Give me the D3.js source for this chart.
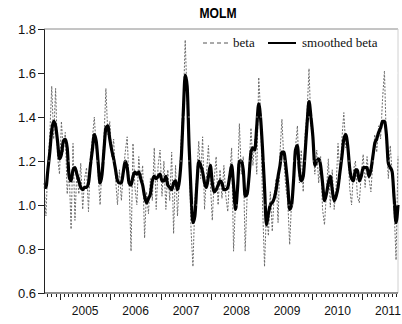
<!DOCTYPE html>
<html>
<head>
<meta charset="utf-8">
<script src="https://cdn.jsdelivr.net/npm/d3@7"></script>
<style>
  body { margin: 0; background: #fff; }
  svg { display: block; }
</style>
</head>
<body>
<div id="chart"></div>
<script>
const title = "MOLM";
const seriesNames = ["beta", "smoothed beta"];
const startDate = "2004-03-09";
const stepDays = 14;

const beta = [
  1.10, 0.95, 1.18, 1.32, 1.54, 1.30, 1.53, 1.22, 1.14, 1.38,
  1.24, 1.33, 1.05, 1.16, 0.89, 1.28, 0.93, 1.16, 1.05, 1.19,
  0.98, 1.12, 1.17, 0.97, 1.22, 1.30, 1.40, 1.26, 1.14, 1.00,
  1.18, 1.30, 1.53, 1.32, 1.38, 1.22, 1.30, 1.12, 1.00, 1.16,
  1.02, 1.15, 1.24, 1.31, 1.10, 0.79, 1.28, 1.08, 1.00, 1.22,
  1.10, 1.18, 0.85, 1.06, 0.96, 1.12, 1.02, 1.26, 0.98, 1.18,
  1.25, 1.04, 1.20, 0.98, 1.16, 1.02, 1.24, 0.87, 1.18, 0.95,
  1.12, 1.31, 1.45, 1.75, 1.48, 1.24, 0.89, 0.72, 1.02, 1.14,
  1.29, 1.12, 1.31, 0.98, 1.14, 1.27, 1.10, 0.93, 1.12, 1.22,
  1.00, 1.16, 1.03, 1.18, 1.04, 0.97, 1.14, 1.26, 0.79, 1.02,
  1.10, 1.37, 1.14, 1.22, 0.79, 1.04, 1.16, 1.35, 1.18, 1.30,
  1.14, 1.58, 1.42, 1.00, 0.72, 0.98, 0.86, 1.06, 0.88, 1.05,
  1.12, 0.92, 1.24, 1.39, 1.20, 1.08, 1.02, 0.82, 1.02, 1.14,
  1.26, 1.36, 1.10, 1.25, 1.06, 1.33, 1.42, 1.62, 1.36, 1.30,
  1.14, 1.25, 1.10, 1.22, 0.98, 0.91, 1.06, 1.21, 0.99, 1.16,
  0.98, 1.08, 1.28, 1.12, 1.30, 1.42, 1.26, 1.28, 1.08, 1.00,
  1.16, 1.20, 1.04, 1.01, 1.14, 1.23, 1.08, 1.22, 1.12, 1.06,
  1.20, 1.32, 1.24, 1.36, 1.30, 1.48, 1.61, 1.28, 1.12, 1.27,
  1.14, 0.98, 0.75, 1.22
];

const smoothed = [
  1.08, 1.08, 1.16, 1.24, 1.34, 1.38, 1.36, 1.29, 1.21, 1.23,
  1.29, 1.30, 1.26, 1.13, 1.11, 1.16, 1.17, 1.14, 1.11, 1.08,
  1.07, 1.08, 1.08, 1.10, 1.18, 1.25, 1.32, 1.29, 1.19, 1.10,
  1.14, 1.25, 1.35, 1.36, 1.30, 1.25, 1.21, 1.16, 1.11, 1.10,
  1.10, 1.15, 1.20, 1.17, 1.10, 1.09, 1.13, 1.15, 1.14, 1.15,
  1.12, 1.09, 1.04, 1.01, 1.03, 1.05, 1.11, 1.13, 1.12, 1.13,
  1.14, 1.11, 1.11, 1.13, 1.09, 1.08, 1.07, 1.10, 1.11, 1.07,
  1.11, 1.22, 1.42, 1.59, 1.54, 1.27, 1.06, 0.92, 0.95, 1.09,
  1.20, 1.18, 1.15, 1.10, 1.08, 1.13, 1.18, 1.10, 1.06, 1.07,
  1.09, 1.11, 1.10, 1.07, 1.07, 1.08, 1.13, 1.18, 1.09, 0.98,
  1.07, 1.20, 1.20, 1.16, 1.04, 1.05, 1.13, 1.24, 1.26, 1.25,
  1.36, 1.46, 1.39, 1.25, 1.08, 0.91, 0.96, 1.00, 1.01, 1.03,
  1.07, 1.13, 1.18, 1.24, 1.24, 1.18, 1.09, 0.98, 1.00, 1.11,
  1.25, 1.27, 1.16, 1.11, 1.13, 1.24, 1.37, 1.47, 1.40, 1.31,
  1.18, 1.20, 1.21, 1.18, 1.10, 1.02, 1.05, 1.10, 1.13, 1.07,
  1.02, 1.04, 1.08, 1.15, 1.22, 1.30, 1.32, 1.27, 1.17, 1.12,
  1.11, 1.16, 1.16, 1.11, 1.13, 1.17, 1.17, 1.17, 1.13, 1.16,
  1.22, 1.28, 1.30, 1.33, 1.35, 1.38, 1.38, 1.32, 1.19, 1.17,
  1.15, 1.03, 0.92, 1.00
];

const yTicks = [0.6, 0.8, 1.0, 1.2, 1.4, 1.6, 1.8];

const width = 402;
const height = 324;
const margin = { top: 29, right: 4, bottom: 31, left: 44 };

const parse = d3.timeParse("%Y-%m-%d");
const dates = beta.map((d, i) => d3.timeDay.offset(parse(startDate), i * stepDays));

const svg = d3.select("#chart")
  .append("svg")
  .attr("width", width)
  .attr("height", height);

// scales
const x = d3.scaleTime()
  .domain([dates[0], dates[dates.length - 1]])
  .range([margin.left, width - margin.right]);

const y = d3.scaleLinear()
  .domain([0.6, 1.8])
  .range([height - margin.bottom, margin.top]);

// frame (top and right edges in grey)
svg.append("line")
  .attr("x1", margin.left).attr("x2", width - margin.right)
  .attr("y1", margin.top).attr("y2", margin.top)
  .attr("stroke", "#8a8a8a").attr("stroke-width", 1);
svg.append("line")
  .attr("x1", width - margin.right).attr("x2", width - margin.right)
  .attr("y1", margin.top).attr("y2", height - margin.bottom)
  .attr("stroke", "#d0d0d0").attr("stroke-width", 1);

// beta (dashed grey)
const line = d3.line()
  .x((d, i) => x(dates[i]))
  .y(d => y(d));

svg.append("path")
  .datum(beta)
  .attr("fill", "none")
  .attr("stroke", "#6a6a6a")
  .attr("stroke-width", 1)
  .attr("stroke-dasharray", "2,1.5")
  .attr("d", line);

// smoothed beta (thick black)
svg.append("path")
  .datum(smoothed)
  .attr("fill", "none")
  .attr("stroke", "#000")
  .attr("stroke-width", 3.2)
  .attr("stroke-linejoin", "round")
  .attr("d", line.curve(d3.curveMonotoneX));

// faint white grid over the data
svg.append("g")
  .selectAll("line")
  .data(yTicks.slice(1, -1))
  .enter()
  .append("line")
  .attr("x1", margin.left).attr("x2", width - margin.right)
  .attr("y1", d => y(d)).attr("y2", d => y(d))
  .attr("stroke", "#fff")
  .attr("stroke-width", 0.6)
  .attr("stroke-dasharray", "2,2")
  .attr("opacity", 0.8);

// Y axis
const yAxis = svg.append("g")
  .attr("transform", "translate(" + margin.left + ",0)")
  .call(d3.axisLeft(y).tickValues(yTicks).tickFormat(d3.format(".1f")).tickSize(6).tickPadding(2));
yAxis.select(".domain").attr("stroke", "#222");
yAxis.selectAll(".tick line").attr("stroke", "#222");
yAxis.selectAll("text")
  .attr("font-family", "Liberation Sans, Arial, sans-serif")
  .attr("font-size", 13)
  .attr("fill", "#111");

// X axis: monthly ticks, longer ones in July, year labels on Jan 1
const months = d3.timeMonth.range(d3.timeMonth.ceil(dates[0]), dates[dates.length - 1]);
const xAxis = svg.append("g")
  .attr("transform", "translate(0," + (height - margin.bottom) + ")");
xAxis.append("line")
  .attr("x1", margin.left).attr("x2", width - margin.right)
  .attr("stroke", "#222");
xAxis.selectAll(".mtick")
  .data(months)
  .enter()
  .append("line")
  .attr("class", "mtick")
  .attr("x1", d => Math.round(x(d)) + 0.5)
  .attr("x2", d => Math.round(x(d)) + 0.5)
  .attr("y1", 1)
  .attr("y2", d => d.getMonth() === 6 ? 7 : 4)
  .attr("stroke", "#222")
  .attr("stroke-width", 1);

const years = d3.timeYear.range(d3.timeYear.ceil(dates[0]), dates[dates.length - 1]);
xAxis.selectAll(".ylabel")
  .data(years)
  .enter()
  .append("text")
  .attr("class", "ylabel")
  .attr("x", d => x(d))
  .attr("y", 22)
  .attr("text-anchor", "middle")
  .attr("font-family", "Liberation Sans, Arial, sans-serif")
  .attr("font-size", 12)
  .attr("fill", "#111")
  .text(d3.timeFormat("%Y"));

// title (condensed bold)
svg.append("text")
  .attr("x", 218)
  .attr("y", 18)
  .attr("text-anchor", "middle")
  .attr("font-family", "Liberation Sans Narrow, Arial Narrow, Liberation Sans, sans-serif")
  .attr("font-weight", "bold")
  .attr("font-size", 15)
  .attr("textLength", 37)
  .attr("lengthAdjust", "spacingAndGlyphs")
  .text(title);

// legend
const legend = svg.append("g")
  .attr("font-family", "Liberation Serif, Times New Roman, serif")
  .attr("font-size", 13)
  .attr("fill", "#111");
legend.append("line")
  .attr("x1", 203).attr("x2", 229)
  .attr("y1", 43).attr("y2", 43)
  .attr("stroke", "#555").attr("stroke-width", 1)
  .attr("stroke-dasharray", "4,3");
legend.append("text").attr("x", 233).attr("y", 47).text(seriesNames[0]);
legend.append("line")
  .attr("x1", 268).attr("x2", 296)
  .attr("y1", 43).attr("y2", 43)
  .attr("stroke", "#000").attr("stroke-width", 2);
legend.append("text").attr("x", 302).attr("y", 47).text(seriesNames[1]);
</script>
</body>
</html>
